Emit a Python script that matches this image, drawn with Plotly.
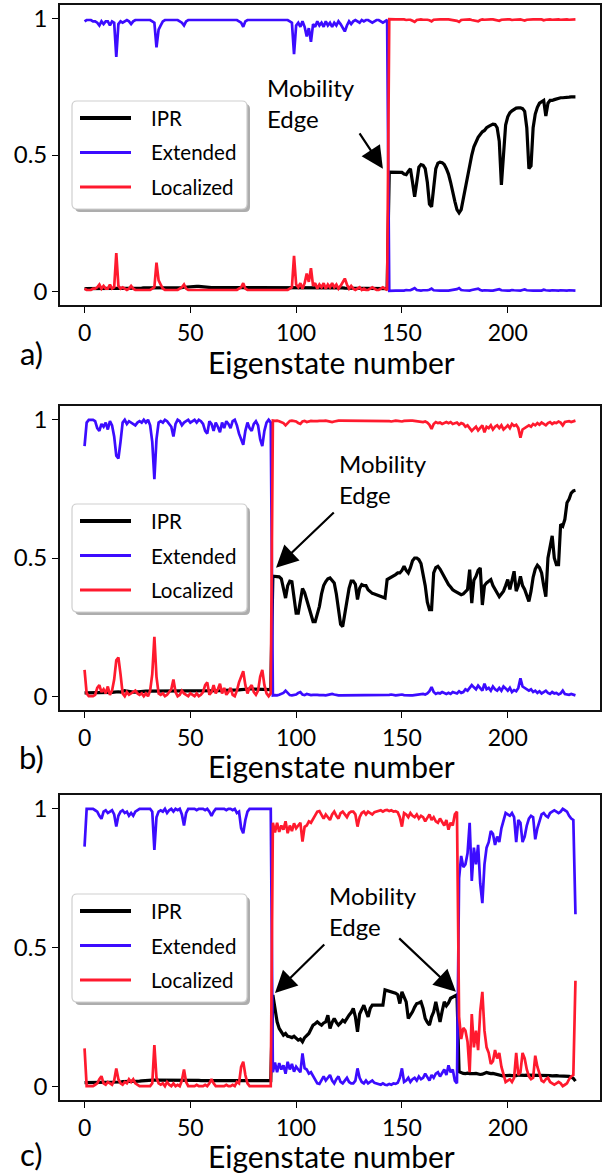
import plotly.graph_objects as go

W, H = 609, 1174
X = list(range(233))
XTICKS = [0, 50, 100, 150, 200]
YTICKS = [0, 0.5, 1]
YTICKTEXT = ["0", "0.5", "1"]
SERIES_NAMES = ["IPR", "Extended", "Localized"]
PANEL_LABELS = ["a)", "b)", "c)"]
XLABEL = "Eigenstate number"
EDGE_TEXT = "Mobility<br>Edge"

# ---------------- panel a ----------------
EXT_A = [
 0.99, 0.995, 0.995, 0.995, 0.99, 0.99, 0.985, 0.975, 0.99, 0.98,
 0.99, 0.99, 0.975, 0.99, 0.985, 0.86, 0.98, 0.99, 0.985, 0.99,
 0.995, 0.99, 0.98, 0.99, 0.995, 0.995, 0.995, 0.995, 0.995, 0.995,
 0.995, 0.995, 0.99, 0.985, 0.895, 0.96, 0.975, 0.99, 0.995, 0.995,
 0.995, 0.995, 0.995, 0.995, 0.995, 0.99, 0.985, 0.975, 0.99, 0.995,
 0.995, 0.995, 0.995, 0.995, 0.995, 0.995, 0.995, 0.995, 0.995, 0.995,
 0.995, 0.995, 0.995, 0.995, 0.995, 0.995, 0.995, 0.995, 0.995, 0.995,
 0.995, 0.995, 0.995, 0.99, 0.985, 0.97, 0.99, 0.995, 0.995, 0.995,
 0.995, 0.995, 0.995, 0.995, 0.995, 0.995, 0.995, 0.995, 0.995, 0.995,
 0.995, 0.995, 0.995, 0.995, 0.995, 0.995, 0.995, 0.99, 0.985, 0.87,
 0.975, 0.985, 0.97, 0.99, 0.97, 0.935, 0.965, 0.915, 0.98, 0.97,
 0.99, 0.975, 0.985, 0.97, 0.99, 0.975, 0.985, 0.97, 0.985, 0.975,
 0.99, 0.98, 0.965, 0.953, 0.975, 0.99, 0.98, 0.99, 0.995, 0.99,
 0.985, 0.995, 0.99, 0.995, 0.995, 0.99, 0.985, 0.99, 0.995, 0.995,
 0.99, 0.985, 0.99, 0.995,
 0.002, 0.003, 0.004, 0.003, 0.003, 0.004, 0.003, 0.003, 0.005, 0.004,
 0.004, 0.008, 0.012, 0.005, 0.003, 0.003, 0.004, 0.003, 0.004, 0.006,
 0.01, 0.004, 0.003, 0.004, 0.003, 0.003, 0.004, 0.003, 0.003, 0.004,
 0.005, 0.006, 0.008, 0.012, 0.005, 0.004, 0.003, 0.004, 0.003, 0.005,
 0.006, 0.009, 0.01, 0.005, 0.003, 0.004, 0.003, 0.004, 0.003, 0.003,
 0.004, 0.005, 0.008, 0.004, 0.003, 0.004, 0.003, 0.003, 0.005, 0.004,
 0.003, 0.004, 0.003, 0.005, 0.007, 0.004, 0.003, 0.004, 0.003, 0.003,
 0.004, 0.003, 0.003, 0.006, 0.004, 0.003, 0.003, 0.004, 0.003, 0.003,
 0.003, 0.004, 0.003, 0.003, 0.003, 0.004, 0.003, 0.003, 0.003]

LOC_A = [
 0.01, 0.005, 0.005, 0.005, 0.01, 0.01, 0.015, 0.025, 0.01, 0.02,
 0.01, 0.01, 0.025, 0.01, 0.015, 0.14, 0.02, 0.01, 0.015, 0.01,
 0.005, 0.01, 0.02, 0.01, 0.005, 0.005, 0.005, 0.005, 0.005, 0.005,
 0.005, 0.005, 0.01, 0.015, 0.105, 0.04, 0.025, 0.01, 0.005, 0.005,
 0.005, 0.005, 0.005, 0.005, 0.005, 0.01, 0.015, 0.025, 0.01, 0.005,
 0.005, 0.005, 0.005, 0.005, 0.005, 0.005, 0.005, 0.005, 0.005, 0.005,
 0.005, 0.005, 0.005, 0.005, 0.005, 0.005, 0.005, 0.005, 0.005, 0.005,
 0.005, 0.005, 0.005, 0.01, 0.015, 0.03, 0.01, 0.005, 0.005, 0.005,
 0.005, 0.005, 0.005, 0.005, 0.005, 0.005, 0.005, 0.005, 0.005, 0.005,
 0.005, 0.005, 0.005, 0.005, 0.005, 0.005, 0.005, 0.01, 0.015, 0.13,
 0.025, 0.015, 0.03, 0.01, 0.03, 0.065, 0.035, 0.085, 0.02, 0.03,
 0.01, 0.025, 0.015, 0.03, 0.01, 0.025, 0.015, 0.03, 0.015, 0.025,
 0.01, 0.02, 0.035, 0.047, 0.025, 0.01, 0.02, 0.01, 0.005, 0.01,
 0.015, 0.005, 0.01, 0.005, 0.005, 0.01, 0.015, 0.01, 0.005, 0.005,
 0.01, 0.015, 0.01, 0.005,
 0.998, 0.997, 0.996, 0.997, 0.997, 0.996, 0.997, 0.997, 0.995, 0.996,
 0.996, 0.992, 0.988, 0.995, 0.997, 0.997, 0.996, 0.997, 0.996, 0.994,
 0.99, 0.996, 0.997, 0.996, 0.997, 0.997, 0.996, 0.997, 0.997, 0.996,
 0.995, 0.994, 0.992, 0.988, 0.995, 0.996, 0.997, 0.996, 0.997, 0.995,
 0.994, 0.991, 0.99, 0.995, 0.997, 0.996, 0.997, 0.996, 0.997, 0.997,
 0.996, 0.995, 0.992, 0.996, 0.997, 0.996, 0.997, 0.997, 0.995, 0.996,
 0.997, 0.996, 0.997, 0.995, 0.993, 0.996, 0.997, 0.996, 0.997, 0.997,
 0.996, 0.997, 0.997, 0.994, 0.996, 0.997, 0.997, 0.996, 0.997, 0.997,
 0.997, 0.996, 0.997, 0.997, 0.997, 0.996, 0.997, 0.997, 0.997]

IPR_A = [
 0.01, 0.01, 0.01, 0.01, 0.01, 0.01, 0.01, 0.01, 0.01, 0.01,
 0.01, 0.01, 0.01, 0.01, 0.01, 0.01, 0.01, 0.01, 0.01, 0.01,
 0.01, 0.01, 0.01, 0.011, 0.011, 0.012, 0.012, 0.012, 0.013, 0.013,
 0.013, 0.013, 0.013, 0.013, 0.013, 0.013, 0.013, 0.012, 0.012, 0.012,
 0.012, 0.012, 0.012, 0.012, 0.013, 0.013, 0.014, 0.015, 0.016, 0.016,
 0.017, 0.018, 0.018, 0.018, 0.018, 0.017, 0.016, 0.015, 0.014, 0.014,
 0.014, 0.014, 0.014, 0.014, 0.013, 0.013, 0.013, 0.013, 0.013, 0.013,
 0.013, 0.013, 0.013, 0.013, 0.013, 0.013, 0.013, 0.013, 0.013, 0.013,
 0.013, 0.013, 0.013, 0.013, 0.013, 0.013, 0.013, 0.013, 0.013, 0.013,
 0.013, 0.013, 0.013, 0.013, 0.013, 0.013, 0.014, 0.014, 0.014, 0.014,
 0.015, 0.015, 0.015, 0.015, 0.014, 0.014, 0.014, 0.014, 0.014, 0.013,
 0.013, 0.013, 0.013, 0.013, 0.013, 0.013, 0.013, 0.013, 0.013, 0.013,
 0.013, 0.013, 0.013, 0.012, 0.012, 0.012, 0.012, 0.012, 0.012, 0.012,
 0.012, 0.011, 0.011, 0.011, 0.011, 0.011, 0.011, 0.01, 0.01, 0.01,
 0.01, 0.01, 0.01, 0.01,
 0.437, 0.437, 0.437, 0.437, 0.438, 0.437, 0.436, 0.43, 0.428, 0.44,
 0.45, 0.40, 0.347, 0.40, 0.455, 0.465, 0.462, 0.45, 0.40, 0.32,
 0.31, 0.38, 0.45, 0.47, 0.474, 0.472, 0.465, 0.45, 0.43, 0.40,
 0.36, 0.33, 0.30, 0.288, 0.30, 0.34, 0.39, 0.43, 0.47, 0.50,
 0.53, 0.55, 0.565, 0.575, 0.585, 0.59, 0.60, 0.605, 0.61, 0.613,
 0.612, 0.60, 0.55, 0.39, 0.50, 0.61, 0.64, 0.655, 0.662, 0.668,
 0.672, 0.673, 0.673, 0.67, 0.66, 0.60, 0.45, 0.46, 0.60, 0.65,
 0.675, 0.69, 0.695, 0.70, 0.643, 0.69, 0.70, 0.70, 0.703, 0.705,
 0.71, 0.71, 0.71, 0.71, 0.712, 0.712, 0.713, 0.713, 0.713]

# ---------------- panel b ----------------
EXT_B = [
 0.905, 0.99, 1.0, 1.0, 1.0, 0.995, 0.97, 0.96, 0.985, 0.975,
 0.99, 0.965, 0.995, 0.98, 0.94, 0.87, 0.86, 0.92, 0.99, 1.0,
 0.985, 0.995, 0.99, 0.985, 0.98, 0.99, 0.995, 0.99, 1.0, 0.99,
 1.0, 0.98, 0.92, 0.785, 0.93, 0.99, 0.995, 0.99, 1.0, 0.995,
 0.985, 0.975, 0.94, 0.985, 1.0, 0.995, 0.98, 0.99, 0.995, 1.0,
 0.99, 0.995, 1.0, 0.99, 1.0, 0.995, 0.985, 0.96, 0.95, 0.995,
 0.985, 0.96, 0.99, 0.975, 0.955, 0.99, 0.97, 0.995, 0.985, 0.97,
 0.995, 1.0, 0.98, 0.95, 0.93, 0.91, 0.96, 0.99, 0.97, 0.96,
 0.985, 0.995, 0.98, 0.93, 0.905, 0.96, 0.99, 1.0, 0.99,
 0.003, 0.004, 0.003, 0.005, 0.008, 0.012, 0.02, 0.01, 0.004, 0.003,
 0.004, 0.006, 0.012, 0.015, 0.006, 0.004, 0.008, 0.006, 0.004, 0.005,
 0.006, 0.005, 0.004, 0.005, 0.004, 0.003, 0.004, 0.006, 0.008, 0.006,
 0.004, 0.003, 0.003, 0.003, 0.004, 0.003, 0.003, 0.003, 0.003, 0.003,
 0.003, 0.003, 0.003, 0.003, 0.003, 0.004, 0.003, 0.003, 0.003, 0.003,
 0.003, 0.003, 0.004, 0.003, 0.003, 0.005, 0.006, 0.004, 0.003, 0.004,
 0.005, 0.006, 0.004, 0.003, 0.004, 0.003, 0.003, 0.004, 0.003, 0.004,
 0.006, 0.008, 0.006, 0.01, 0.018, 0.033, 0.015, 0.008, 0.012, 0.01,
 0.015, 0.01, 0.008, 0.012, 0.008, 0.015, 0.012, 0.01, 0.018, 0.012,
 0.015, 0.025, 0.02, 0.03, 0.04, 0.032, 0.025, 0.038, 0.028, 0.02,
 0.045, 0.025, 0.03, 0.02, 0.035, 0.025, 0.02, 0.03, 0.02, 0.035,
 0.028, 0.02, 0.03, 0.015, 0.022, 0.018, 0.03, 0.065, 0.035, 0.03,
 0.025, 0.02, 0.025, 0.015, 0.02, 0.012, 0.018, 0.01, 0.015, 0.02,
 0.012, 0.008, 0.015, 0.01, 0.012, 0.006, 0.01, 0.02, 0.008, 0.006,
 0.005, 0.008, 0.004, 0.003]

LOC_B = [
 0.095, 0.01, 0.0, 0.0, 0.0, 0.005, 0.03, 0.04, 0.015, 0.025,
 0.01, 0.035, 0.005, 0.02, 0.06, 0.13, 0.14, 0.08, 0.01, 0.0,
 0.015, 0.005, 0.01, 0.015, 0.02, 0.01, 0.005, 0.01, 0.0, 0.01,
 0.0, 0.02, 0.08, 0.215, 0.07, 0.01, 0.005, 0.01, 0.0, 0.005,
 0.015, 0.025, 0.06, 0.015, 0.0, 0.005, 0.02, 0.01, 0.005, 0.0,
 0.01, 0.005, 0.0, 0.01, 0.0, 0.005, 0.015, 0.04, 0.05, 0.005,
 0.015, 0.04, 0.01, 0.025, 0.045, 0.01, 0.03, 0.005, 0.015, 0.03,
 0.005, 0.0, 0.02, 0.05, 0.07, 0.09, 0.04, 0.01, 0.03, 0.04,
 0.015, 0.005, 0.02, 0.07, 0.095, 0.04, 0.01, 0.0, 0.01,
 0.997, 0.996, 0.997, 0.995, 0.992, 0.988, 0.98, 0.99, 0.996, 0.997,
 0.996, 0.994, 0.988, 0.985, 0.994, 0.996, 0.992, 0.994, 0.996, 0.995,
 0.994, 0.995, 0.996, 0.995, 0.996, 0.997, 0.996, 0.994, 0.992, 0.994,
 0.996, 0.997, 0.997, 0.997, 0.996, 0.997, 0.997, 0.997, 0.997, 0.997,
 0.997, 0.997, 0.997, 0.997, 0.997, 0.996, 0.997, 0.997, 0.997, 0.997,
 0.997, 0.997, 0.996, 0.997, 0.997, 0.995, 0.994, 0.996, 0.997, 0.996,
 0.995, 0.994, 0.996, 0.997, 0.996, 0.997, 0.997, 0.996, 0.997, 0.996,
 0.994, 0.992, 0.994, 0.99, 0.982, 0.967, 0.985, 0.992, 0.988, 0.99,
 0.985, 0.99, 0.992, 0.988, 0.992, 0.985, 0.988, 0.99, 0.982, 0.988,
 0.985, 0.975, 0.98, 0.97, 0.96, 0.968, 0.975, 0.962, 0.972, 0.98,
 0.955, 0.975, 0.97, 0.98, 0.965, 0.975, 0.98, 0.97, 0.98, 0.965,
 0.972, 0.98, 0.97, 0.985, 0.978, 0.982, 0.97, 0.935, 0.965, 0.97,
 0.975, 0.98, 0.975, 0.985, 0.98, 0.988, 0.982, 0.99, 0.985, 0.98,
 0.988, 0.992, 0.985, 0.99, 0.988, 0.994, 0.99, 0.98, 0.992, 0.994,
 0.995, 0.992, 0.996, 0.997]

IPR_B = [
 0.012, 0.012, 0.012, 0.012, 0.012, 0.013, 0.013, 0.013, 0.013, 0.013,
 0.014, 0.014, 0.014, 0.014, 0.015, 0.016, 0.016, 0.015, 0.018, 0.02,
 0.018, 0.016, 0.015, 0.015, 0.015, 0.016, 0.016, 0.017, 0.018, 0.018,
 0.018, 0.018, 0.018, 0.018, 0.018, 0.018, 0.018, 0.018, 0.018, 0.018,
 0.018, 0.018, 0.019, 0.019, 0.019, 0.019, 0.019, 0.019, 0.019, 0.019,
 0.019, 0.019, 0.02, 0.02, 0.02, 0.02, 0.02, 0.02, 0.02, 0.02,
 0.02, 0.02, 0.02, 0.02, 0.02, 0.02, 0.021, 0.021, 0.021, 0.022,
 0.022, 0.022, 0.023, 0.023, 0.024, 0.025, 0.025, 0.025, 0.026, 0.026,
 0.026, 0.026, 0.025, 0.025, 0.025, 0.024, 0.024, 0.024, 0.024,
 0.434, 0.434, 0.434, 0.432, 0.425, 0.39, 0.355, 0.40, 0.416, 0.414,
 0.36, 0.30, 0.30, 0.35, 0.39, 0.375, 0.35, 0.32, 0.29, 0.27,
 0.27, 0.30, 0.325, 0.37, 0.40, 0.415, 0.425, 0.428, 0.42, 0.41,
 0.37, 0.31, 0.26, 0.252, 0.30, 0.35, 0.39, 0.416, 0.416, 0.405,
 0.35, 0.39, 0.404, 0.40, 0.40, 0.385, 0.378, 0.372, 0.37, 0.367,
 0.362, 0.358, 0.355, 0.355, 0.422, 0.426, 0.43, 0.436, 0.44, 0.446,
 0.446, 0.455, 0.47, 0.455, 0.446, 0.465, 0.49, 0.50, 0.50, 0.494,
 0.48, 0.44, 0.40, 0.34, 0.313, 0.313, 0.446, 0.465, 0.47, 0.46,
 0.446, 0.43, 0.42, 0.404, 0.395, 0.385, 0.38, 0.375, 0.37, 0.367,
 0.37, 0.38, 0.386, 0.458, 0.337, 0.42, 0.434, 0.455, 0.464, 0.33,
 0.40, 0.41, 0.418, 0.422, 0.40, 0.386, 0.37, 0.36, 0.37, 0.38,
 0.40, 0.422, 0.386, 0.42, 0.452, 0.38, 0.40, 0.434, 0.40, 0.386,
 0.36, 0.343, 0.38, 0.43, 0.46, 0.474, 0.465, 0.446, 0.40, 0.36,
 0.50, 0.549, 0.58, 0.50, 0.476, 0.476, 0.622, 0.615, 0.64, 0.70,
 0.713, 0.735, 0.743, 0.745]

# ---------------- panel c ----------------
EXT_C = [
 0.864, 1.0, 1.0, 1.0, 1.0, 0.995, 0.99, 0.975, 0.964, 0.99,
 0.995, 0.985, 0.99, 0.995, 0.98, 0.936, 0.975, 0.99, 0.995, 0.985,
 0.99, 0.975, 0.985, 0.975, 0.99, 0.995, 1.0, 1.0, 1.0, 1.0,
 1.0, 1.0, 0.99, 0.852, 0.97, 0.99, 0.995, 0.99, 1.0, 0.985,
 0.995, 1.0, 0.99, 1.0, 0.995, 1.0, 0.98, 0.94, 0.985, 1.0,
 1.0, 1.0, 1.0, 0.995, 1.0, 1.0, 1.0, 0.995, 1.0, 0.99,
 0.975, 0.99, 1.0, 1.0, 1.0, 1.0, 1.0, 0.995, 1.0, 1.0,
 0.995, 1.0, 0.985, 0.99, 0.93, 0.912, 0.96, 0.99, 1.0, 1.0,
 1.0, 1.0, 1.0, 1.0, 1.0, 1.0, 1.0, 1.0, 1.0,
 0.05, 0.085, 0.05, 0.083, 0.06, 0.075, 0.045, 0.088, 0.06, 0.08,
 0.052, 0.07, 0.06, 0.05, 0.118, 0.065, 0.06, 0.045, 0.05, 0.035,
 0.022, 0.01, 0.008, 0.02, 0.035, 0.02, 0.03, 0.04, 0.02, 0.01,
 0.025, 0.035, 0.015, 0.01, 0.02, 0.03, 0.015, 0.01, 0.01, 0.02,
 0.064, 0.03, 0.015, 0.01, 0.02, 0.01, 0.015, 0.02, 0.012, 0.01,
 0.008, 0.005, 0.01, 0.005, 0.004, 0.008, 0.005, 0.01, 0.008, 0.012,
 0.03, 0.064, 0.015, 0.02, 0.03, 0.015, 0.025, 0.03, 0.02, 0.035,
 0.025, 0.03, 0.045, 0.03, 0.02, 0.04, 0.03, 0.045, 0.05, 0.035,
 0.05, 0.06, 0.04, 0.075, 0.05, 0.06, 0.02, 0.01,
 0.75, 0.83, 0.79, 0.80, 0.84, 0.95, 0.74, 0.86, 0.80, 0.87,
 0.73, 0.66, 0.80, 0.86, 0.88, 0.92, 0.91, 0.87, 0.90, 0.88,
 0.93, 0.955, 0.985, 0.98, 0.975, 0.985, 0.97, 0.88, 0.96, 0.95,
 0.88, 0.90, 0.94, 0.965, 0.975, 0.97, 0.89, 0.93, 0.96, 0.98,
 0.985, 0.975, 0.97, 0.985, 0.99, 0.995, 0.99, 0.985, 0.99, 1.0,
 0.995, 0.99, 0.975, 0.965, 0.96, 0.62]

LOC_C = [
 0.136, 0.0, 0.0, 0.0, 0.0, 0.005, 0.01, 0.025, 0.036, 0.01,
 0.005, 0.015, 0.01, 0.005, 0.02, 0.064, 0.025, 0.01, 0.005, 0.015,
 0.01, 0.025, 0.015, 0.025, 0.01, 0.005, 0.0, 0.0, 0.0, 0.0,
 0.0, 0.0, 0.01, 0.148, 0.03, 0.01, 0.005, 0.01, 0.0, 0.015,
 0.005, 0.0, 0.01, 0.0, 0.005, 0.0, 0.02, 0.06, 0.015, 0.0,
 0.0, 0.0, 0.0, 0.005, 0.0, 0.0, 0.0, 0.005, 0.0, 0.01,
 0.025, 0.01, 0.0, 0.0, 0.0, 0.0, 0.0, 0.005, 0.0, 0.0,
 0.005, 0.0, 0.015, 0.01, 0.07, 0.088, 0.04, 0.01, 0.0, 0.0,
 0.0, 0.0, 0.0, 0.0, 0.0, 0.0, 0.0, 0.0, 0.0,
 0.95, 0.915, 0.95, 0.917, 0.94, 0.925, 0.955, 0.912, 0.94, 0.92,
 0.948, 0.93, 0.94, 0.95, 0.882, 0.935, 0.94, 0.955, 0.95, 0.965,
 0.978, 0.99, 0.992, 0.98, 0.965, 0.98, 0.97, 0.96, 0.98, 0.99,
 0.975, 0.965, 0.985, 0.99, 0.98, 0.97, 0.985, 0.99, 0.99, 0.98,
 0.936, 0.97, 0.985, 0.99, 0.98, 0.99, 0.985, 0.98, 0.988, 0.99,
 0.992, 0.995, 0.99, 0.995, 0.996, 0.992, 0.995, 0.99, 0.992, 0.988,
 0.97, 0.936, 0.985, 0.98, 0.97, 0.985, 0.975, 0.97, 0.98, 0.965,
 0.975, 0.97, 0.955, 0.97, 0.98, 0.96, 0.97, 0.955, 0.95, 0.965,
 0.95, 0.94, 0.96, 0.925, 0.95, 0.94, 0.98, 0.99,
 0.25, 0.17, 0.21, 0.20, 0.16, 0.05, 0.26, 0.14, 0.20, 0.13,
 0.27, 0.34, 0.20, 0.14, 0.12, 0.08, 0.09, 0.13, 0.10, 0.12,
 0.07, 0.045, 0.015, 0.02, 0.025, 0.015, 0.03, 0.12, 0.04, 0.05,
 0.12, 0.10, 0.06, 0.035, 0.025, 0.03, 0.11, 0.07, 0.04, 0.02,
 0.015, 0.025, 0.03, 0.015, 0.01, 0.005, 0.01, 0.015, 0.01, 0.0,
 0.005, 0.01, 0.025, 0.035, 0.04, 0.38]

IPR_C = [
 0.013, 0.013, 0.013, 0.013, 0.013, 0.013, 0.014, 0.014, 0.014, 0.014,
 0.014, 0.014, 0.015, 0.015, 0.015, 0.015, 0.015, 0.015, 0.016, 0.016,
 0.016, 0.016, 0.016, 0.017, 0.017, 0.018, 0.018, 0.019, 0.02, 0.02,
 0.021, 0.021, 0.022, 0.022, 0.022, 0.022, 0.022, 0.022, 0.023, 0.023,
 0.023, 0.023, 0.023, 0.023, 0.022, 0.022, 0.022, 0.022, 0.022, 0.022,
 0.021, 0.021, 0.021, 0.021, 0.021, 0.02, 0.02, 0.02, 0.02, 0.02,
 0.02, 0.02, 0.02, 0.02, 0.019, 0.019, 0.019, 0.019, 0.019, 0.019,
 0.019, 0.019, 0.019, 0.019, 0.019, 0.019, 0.02, 0.02, 0.02, 0.02,
 0.02, 0.02, 0.02, 0.02, 0.02, 0.02, 0.02, 0.02, 0.02,
 0.329, 0.28, 0.232, 0.208, 0.195, 0.184, 0.19, 0.18, 0.178, 0.175,
 0.18, 0.172, 0.166, 0.17, 0.16, 0.175, 0.184, 0.19, 0.205, 0.22,
 0.225, 0.232, 0.225, 0.22, 0.228, 0.232, 0.256, 0.208, 0.23, 0.244,
 0.23, 0.22, 0.228, 0.238, 0.232, 0.245, 0.256, 0.265, 0.28, 0.25,
 0.196, 0.26, 0.28, 0.292, 0.27, 0.25, 0.28, 0.292, 0.292, 0.292,
 0.292, 0.292, 0.292, 0.347, 0.345, 0.342, 0.34, 0.34, 0.335, 0.33,
 0.298, 0.34, 0.32, 0.304, 0.244, 0.255, 0.268, 0.285, 0.298, 0.30,
 0.304, 0.28, 0.244, 0.23, 0.22, 0.25, 0.268, 0.304, 0.27, 0.232,
 0.27, 0.304, 0.29, 0.30, 0.317, 0.32, 0.325, 0.329,
 0.052, 0.048, 0.046, 0.045, 0.047, 0.045, 0.044, 0.045, 0.046, 0.044,
 0.042, 0.043, 0.045, 0.049, 0.047, 0.045, 0.046, 0.044, 0.042, 0.04,
 0.037, 0.036, 0.038, 0.04, 0.039, 0.038, 0.037, 0.038, 0.04, 0.039,
 0.038, 0.039, 0.04, 0.04, 0.039, 0.038, 0.039, 0.04, 0.04, 0.039,
 0.038, 0.038, 0.039, 0.038, 0.037, 0.038, 0.038, 0.037, 0.037, 0.036,
 0.036, 0.036, 0.035, 0.033, 0.028, 0.018]

# ---------------- styling ----------------
FONT = "Lato"
C_IPR = "#000000"
C_EXT = "#3c0cff"
C_LOC = "#ff1a2e"

FRAME_L, FRAME_R = 60, 600
PANEL_TB = [(5, 305), (406, 710), (795, 1100)]
LEGEND_TOP = [101, 504, 894]
XLABEL_Y = [362, 766, 1156]
LETTER_Y = [353, 757, 1154]

# arrow / text positions in data units: (head x, head y, tail x, tail y)
ARROWS = [
    [(141.0, 0.45, 129.5, 0.585)],
    [(90.5, 0.465, 118.5, 0.67)],
    [(90.0, 0.336, 114.0, 0.516), (175.5, 0.34, 148.0, 0.538)],
]
EDGE_POS = [(85.5, 0.69), (119.5, 0.785), (114.5, 0.632)]


def pxx(p):
    return p / W


def pxy(p):
    return 1 - p / H


def rbox_path(x0, y0, x1, y1, r):
    pts = [("M", (x0 + r, y0)), ("L", (x1 - r, y0)), ("Q", (x1, y0), (x1, y0 + r)),
           ("L", (x1, y1 - r)), ("Q", (x1, y1), (x1 - r, y1)), ("L", (x0 + r, y1)),
           ("Q", (x0, y1), (x0, y1 - r)), ("L", (x0, y0 + r)), ("Q", (x0, y0), (x0 + r, y0))]
    s = ""
    for item in pts:
        s += item[0] + " " + " ".join(f"{pxx(p[0]):.5f},{pxy(p[1]):.5f}" for p in item[1:]) + " "
    return s + "Z"


fig = go.Figure()
data = [(IPR_A, EXT_A, LOC_A), (IPR_B, EXT_B, LOC_B), (IPR_C, EXT_C, LOC_C)]
colors = [C_IPR, C_EXT, C_LOC]
widths = [3.2, 2.7, 2.7]

shapes = []
annotations = []
layout_axes = {}

for k, (series, (top, bot)) in enumerate(zip(data, PANEL_TB)):
    sfx = "" if k == 0 else str(k + 1)
    for name, ys, col, lw in zip(SERIES_NAMES, series, colors, widths):
        fig.add_trace(go.Scatter(x=X[:len(ys)], y=ys, mode="lines", name=name,
                                 line=dict(color=col, width=lw),
                                 xaxis="x" + sfx, yaxis="y" + sfx, showlegend=False,
                                 hoverinfo="skip"))
    layout_axes["xaxis" + sfx] = dict(
        domain=[FRAME_L / W, FRAME_R / W], range=[-11.6, 243.6], anchor="y" + sfx,
        tickvals=XTICKS, ticks="outside", ticklen=6, tickwidth=1.4, tickcolor="black",
        showline=True, mirror=True, linecolor="#111", linewidth=1.8,
        showgrid=False, zeroline=False, tickfont=dict(size=23, family=FONT, color="black"))
    layout_axes["yaxis" + sfx] = dict(
        domain=[1 - bot / H, 1 - top / H], range=[-0.05, 1.05], anchor="x" + sfx,
        tickvals=YTICKS, ticktext=YTICKTEXT, ticks="outside", ticklen=6, tickwidth=1.4,
        tickcolor="black", showline=True, mirror=True, linecolor="#111", linewidth=1.8,
        showgrid=False, zeroline=False, tickfont=dict(size=24, family=FONT, color="black"))

    # x label and panel letter
    annotations.append(dict(text=XLABEL, x=pxx(331), y=pxy(XLABEL_Y[k]), xref="paper", yref="paper",
                            xanchor="center", yanchor="middle", showarrow=False,
                            font=dict(size=30, family=FONT, color="black")))
    annotations.append(dict(text=PANEL_LABELS[k], x=pxx(31), y=pxy(LETTER_Y[k]), xref="paper", yref="paper",
                            xanchor="center", yanchor="middle", showarrow=False,
                            font=dict(size=31, family=FONT, color="black")))

    # Mobility edge text and arrows
    ex, ey = EDGE_POS[k]
    annotations.append(dict(text=EDGE_TEXT, x=ex, y=ey, xref="x" + sfx, yref="y" + sfx,
                            xanchor="left", yanchor="middle", align="left", showarrow=False,
                            font=dict(size=24, family=FONT, color="black")))
    for hx, hy, tx, ty in ARROWS[k]:
        annotations.append(dict(text="", x=hx, y=hy, ax=tx, ay=ty, xref="x" + sfx, yref="y" + sfx,
                                axref="x" + sfx, ayref="y" + sfx, showarrow=True,
                                arrowhead=2, arrowsize=2.0, arrowwidth=2.2, arrowcolor="black",
                                standoff=0, startstandoff=0))

    # legend (matplotlib-style box with shadow)
    lt = LEGEND_TOP[k]
    lb = lt + 108
    shapes.append(dict(type="path", path=rbox_path(75, lt + 3, 250, lb + 3, 5), xref="paper", yref="paper",
                       fillcolor="rgba(0,0,0,0.32)", line=dict(width=0), layer="above"))
    shapes.append(dict(type="path", path=rbox_path(72, lt, 247, lb, 5), xref="paper", yref="paper",
                       fillcolor="rgba(255,255,255,1)", line=dict(color="#cfcfcf", width=1.2), layer="above"))
    for j, (name, col) in enumerate(zip(SERIES_NAMES, colors)):
        yy = lt + 17 + j * 34.5
        shapes.append(dict(type="line", x0=pxx(80), x1=pxx(131), y0=pxy(yy), y1=pxy(yy),
                           xref="paper", yref="paper", layer="above",
                           line=dict(color=col, width=3.8 if j == 0 else 3.2)))
        annotations.append(dict(text=name, x=pxx(149), y=pxy(yy), xref="paper", yref="paper",
                                xanchor="left", yanchor="middle", showarrow=False,
                                font=dict(size=20.5, family=FONT, color="black")))

fig.update_layout(width=W, height=H, margin=dict(l=0, r=0, t=0, b=0, pad=0, autoexpand=False),
                  paper_bgcolor="white", plot_bgcolor="white", showlegend=False,
                  font=dict(family=FONT, color="black"), shapes=shapes, annotations=annotations,
                  **layout_axes)

fig.write_html("out.html", config={"displayModeBar": False},
               post_script="document.body.style.margin='0px';document.body.style.padding='0px';")
